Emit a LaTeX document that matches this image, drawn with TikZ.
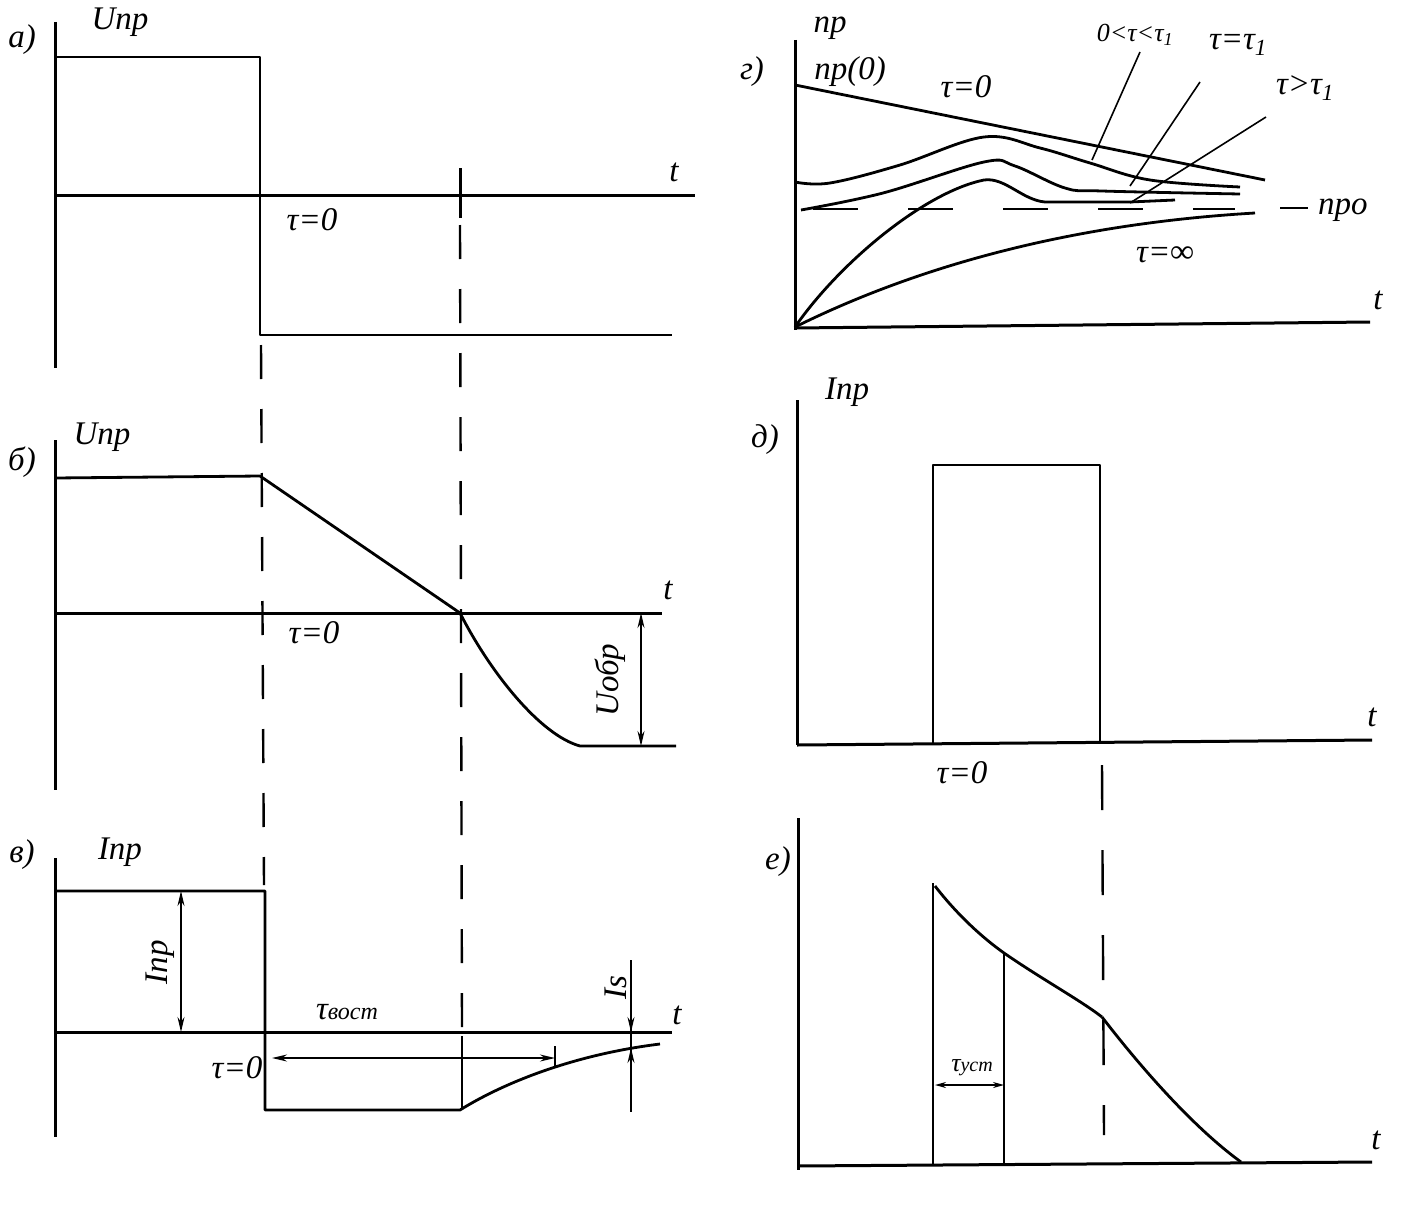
\documentclass[tikz,border=0pt]{standalone}
\usepackage{fontspec}
\setmainfont{Liberation Serif}
\usetikzlibrary{arrows.meta}
\begin{document}
\begin{tikzpicture}[x=1pt,y=-1pt,
  ax/.style={line width=3pt},
  crv/.style={line width=2.8pt, line join=round},
  thn/.style={line width=1.6pt},
  dsh/.style={line width=2.4pt, dash pattern=on 34pt off 30pt},
  lbl/.style={font=\fontsize{33}{38}\selectfont\itshape, inner sep=0pt},
  sml/.style={font=\fontsize{26}{30}\selectfont\itshape, inner sep=0pt},
  dim/.style={line width=1.5pt, {Stealth[length=15pt,width=7pt]}-{Stealth[length=15pt,width=7pt]}},
  one/.style={line width=1.5pt, -{Stealth[length=15pt,width=7pt]}}]
\useasboundingbox (0,0) rectangle (1402,1220);
% ---------- panel a ----------
\node[lbl] (la) at (22,40) {а)};
\node[lbl] (ua) at (120,22) {Uпр};
\draw[ax] (55,22) -- (55,368);
\draw[ax] (55,195) -- (695,195);
\draw[crv] (55,57) -- (260,57) -- (260,335) -- (672,335);
\draw[ax] (460,168) -- (460,218);
\node[lbl] (ta) at (674,172) {t};
\node[lbl] (za) at (312,220) {τ=0};
% dashed guides
\draw[dsh] (261,345) -- (264,885);
\draw[dsh] (460,225) -- (462,1030);
\draw[thn] (462,1036) -- (462,1110);
% ---------- panel b ----------
\node[lbl] (lb) at (22,462) {б)};
\node[lbl] (ub) at (102,437) {Uпр};
\draw[ax] (55,440) -- (55,790);
\draw[ax] (55,613) -- (662,613);
\draw[crv] (55,478) -- (260,476) -- (460,613) .. controls (490,672) and (540,735) .. (580,746) -- (676,746);
\coordinate (b1) at (641,613);
\coordinate (b2) at (641,746);
\draw[dim] (b1) -- (b2);
\node[lbl,rotate=90] (uo) at (610,680) {Uобр};
\node[lbl] (tb) at (668,590) {t};
\node[lbl] (zb) at (314,633) {τ=0};
% ---------- panel c ----------
\node[lbl] (lc) at (22,855) {в)};
\node[lbl] (ic) at (120,852) {Iпр};
\draw[ax] (55,858) -- (55,1137);
\draw[ax] (55,1032) -- (672,1032);
\draw[crv] (55,891) -- (265,891) -- (265,1110) -- (460,1110) .. controls (500,1085) and (570,1055) .. (660,1044);
\coordinate (c1) at (181,891);
\coordinate (c2) at (181,1032);
\draw[dim] (c1) -- (c2);
\node[lbl,rotate=90] (ipr) at (160,962) {Iпр};
\node[lbl] (tv) at (347,1012) {τ\fontsize{24}{26}\selectfont вост};
\coordinate (c3) at (272,1058);
\coordinate (c4) at (555,1058);
\draw[dim] (c3) -- (c4);
\draw[thn] (555,1046) -- (555,1068);
\node[lbl] (zc) at (237,1068) {τ=0};
\draw[thn] (631,960) -- (631,1112);
\draw[one] (631,1000) -- (631,1032);
\draw[one] (631,1080) -- (631,1048);
\node[lbl,rotate=90] (is) at (616,988) {Is};
\node[lbl] (tc) at (677,1015) {t};
% ---------- panel d (g) ----------
\node[lbl] (ld) at (752,72) {г)};
\draw[ax] (795,40) -- (795,330);
\draw[ax] (795,328) -- (1370,322);
\node[lbl] (td) at (1378,300) {t};
\node[lbl] (np) at (830,28) {np};
\node[lbl] (np0) at (850,72) {np(0)};
\draw[crv] (795,85) -- (1265,180);
\node[lbl] (zd) at (966,87) {τ=0};
\draw[crv] (795,327) .. controls (900,275) and (1050,225) .. (1255,213);
\node[lbl] (zinf) at (1165,255) {τ=∞};
\draw[line width=2.4pt, dash pattern=on 45pt off 50pt] (813,209) -- (1235,209);
\draw[line width=2.4pt] (1280,208) -- (1308,208);
\node[lbl,anchor=west] (npo) at (1318,210) {npo};
\draw[crv] plot[smooth,tension=0.6] coordinates {(795,182) (830,183) (900,165) (984,137) (1040,148) (1090,163) (1150,180) (1240,187)};
\draw[crv] plot[smooth,tension=0.6] coordinates {(801,210) (883,193) (984,162) (1015,166) (1065,188) (1102,191) (1240,194)};
\draw[crv] (795,327) .. controls (840,262) and (925,192) .. (984,180) .. controls (1005,177) and (1022,200) .. (1045,202) -- (1130,202) -- (1175,200);
\node[sml] (l1) at (1135,35) {0<τ<τ\textsubscript{1}};
\node[lbl] (l2) at (1238,45) {τ=τ\textsubscript{1}};
\node[lbl] (l3) at (1305,88) {τ>τ\textsubscript{1}};
\coordinate (p1) at (1092,160);
\coordinate (p2) at (1130,186);
\coordinate (p3) at (1130,203);
\draw[thn] (1140,52) -- (p1);
\draw[thn] (1200,82) -- (p2);
\draw[thn] (1266,117) -- (p3);
% ---------- panel e (d) ----------
\node[lbl] (le) at (765,440) {д)};
\node[lbl] (ie) at (847,392) {Iпр};
\draw[ax] (797,400) -- (797,745);
\draw[ax] (797,745) -- (1372,740);
\draw[crv] (933,745) -- (933,465) -- (1100,465) -- (1100,742);
\node[lbl] (te) at (1372,717) {t};
\node[lbl] (ze) at (962,773) {τ=0};
\draw[line width=2.4pt, dash pattern=on 45pt off 40pt] (1102,765) -- (1104,1135);
% ---------- panel f (e) ----------
\node[lbl] (lf) at (778,862) {е)};
\draw[ax] (798,818) -- (798,1170);
\draw[ax] (797,1166) -- (1372,1162);
\node[lbl] (tf) at (1376,1140) {t};
\draw[crv] (933,883) -- (933,1165);
\draw[crv] (935,886) .. controls (955,912) and (980,936) .. (1004,953) .. controls (1040,978) and (1080,1000) .. (1102,1017);
\draw[crv] (1102,1017) .. controls (1135,1060) and (1190,1125) .. (1241,1162);
\draw[crv] (1004,953) -- (1004,1165);
\coordinate (f1) at (935,1085);
\coordinate (f2) at (1004,1085);
\draw[line width=1.5pt, {Stealth[length=11pt,width=6pt]}-{Stealth[length=11pt,width=6pt]}] (f1) -- (f2);
\node[sml] (tu) at (972,1068) {τ\fontsize{20}{22}\selectfont уст};
\end{tikzpicture}
\end{document}
